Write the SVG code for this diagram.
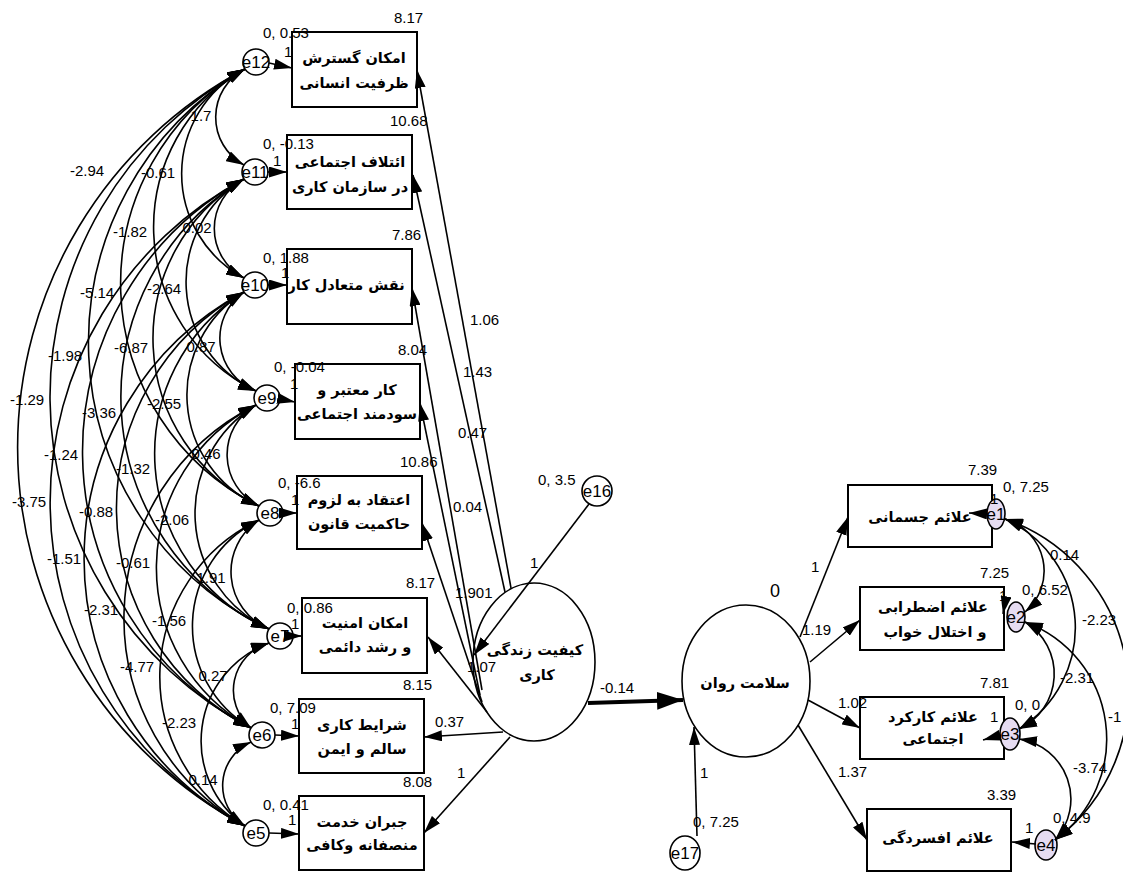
<svg xmlns="http://www.w3.org/2000/svg" width="1123" height="872" viewBox="0 0 1123 872">
<defs>
<marker id="ah" viewBox="0 0 18 11" refX="18" refY="5.5" markerWidth="18" markerHeight="11" markerUnits="userSpaceOnUse" orient="auto-start-reverse"><path d="M0,0 L18,5.5 L0,11 z" fill="#000"/></marker>
<marker id="ahb" viewBox="0 0 26 18" refX="26" refY="9" markerWidth="26" markerHeight="18" markerUnits="userSpaceOnUse" orient="auto"><path d="M0,0 L26,9 L0,18 z" fill="#000"/></marker>
</defs>
<style>
.box{fill:#fff;stroke:#000;stroke-width:2}
.lat{fill:#fff;stroke:#000;stroke-width:1.6}
.err{fill:#fff;stroke:#000;stroke-width:1.6}
.errp{fill:#e6dcf2;stroke:#000;stroke-width:1.6}
.p{fill:none;stroke:#000;stroke-width:1.6;marker-end:url(#ah)}
.c{fill:none;stroke:#000;stroke-width:1.6;marker-start:url(#ah);marker-end:url(#ah)}
.n{font-family:"Liberation Sans",Arial,sans-serif;font-size:15px;fill:#000}
.m{font-family:"Liberation Sans",Arial,sans-serif;font-size:15px;fill:#000;text-anchor:middle}
.fa{font-family:"DejaVu Sans","Noto Sans",sans-serif;font-size:14.5px;font-weight:bold;fill:#000;text-anchor:middle}
.el{font-family:"Liberation Sans",Arial,sans-serif;font-size:17px;fill:#000;text-anchor:middle}
</style>
<rect width="1123" height="872" fill="#fff"/>
<g id="nodes">
<g id="box1"><rect class="box" x="292" y="32" width="125" height="75"/><text class="fa" x="354" y="63">امکان گسترش</text><text class="fa" x="354" y="88">ظرفیت انسانی</text></g>
<g id="box2"><rect class="box" x="287" y="135" width="125" height="74"/><text class="fa" x="350" y="167">ائتلاف اجتماعی</text><text class="fa" x="350" y="192">در سازمان کاری</text></g>
<g id="box3"><rect class="box" x="287" y="249" width="125" height="75"/><text class="fa" x="346" y="290">نقش متعادل کار</text></g>
<g id="box4"><rect class="box" x="295" y="364" width="125" height="75"/><text class="fa" x="357" y="395">کار معتبر و</text><text class="fa" x="357" y="419">سودمند اجتماعی</text></g>
<g id="box5"><rect class="box" x="297" y="476" width="125" height="73"/><text class="fa" x="359" y="505">اعتقاد به لزوم</text><text class="fa" x="359" y="529">حاکمیت قانون</text></g>
<g id="box6"><rect class="box" x="302" y="598" width="125" height="75"/><text class="fa" x="365" y="628">امکان امنیت</text><text class="fa" x="365" y="652">و رشد دائمی</text></g>
<g id="box7"><rect class="box" x="299" y="699" width="125" height="74"/><text class="fa" x="362" y="730">شرایط کاری</text><text class="fa" x="362" y="754">سالم و ایمن</text></g>
<g id="box8"><rect class="box" x="299" y="796" width="125" height="74"/><text class="fa" x="362" y="827">جبران خدمت</text><text class="fa" x="362" y="850">منصفانه وکافی</text></g>
<g id="e12"><circle class="err" cx="256" cy="62" r="13"/><text class="el" x="256" y="68">e12</text></g>
<g id="e11"><circle class="err" cx="255" cy="172" r="13"/><text class="el" x="255" y="178">e11</text></g>
<g id="e10"><circle class="err" cx="255" cy="285" r="13"/><text class="el" x="255" y="291">e10</text></g>
<g id="e9"><circle class="err" cx="267" cy="398" r="13"/><text class="el" x="267" y="404">e9</text></g>
<g id="e8"><circle class="err" cx="270" cy="513" r="13"/><text class="el" x="270" y="519">e8</text></g>
<g id="e7"><circle class="err" cx="280" cy="636" r="13"/><text class="el" x="280" y="642">e7</text></g>
<g id="e6"><circle class="err" cx="262" cy="735" r="13"/><text class="el" x="262" y="741">e6</text></g>
<g id="e5"><circle class="err" cx="256" cy="833" r="13"/><text class="el" x="256" y="839">e5</text></g>
<g id="qwl"><ellipse class="lat" cx="534" cy="662" rx="61" ry="79"/><text class="fa" x="535" y="655">کیفیت زندگی</text><text class="fa" x="537" y="680">کاری</text></g>
<g id="e16"><circle class="err" cx="597" cy="491" r="15"/><text class="el" x="597" y="497">e16</text></g>
<g id="mh"><ellipse class="lat" cx="746" cy="681" rx="64" ry="76"/><text class="fa" x="745" y="688">سلامت روان</text></g>
<g id="e17"><ellipse class="err" cx="685" cy="853" rx="15" ry="17"/><text class="el" x="685" y="859">e17</text></g>
<g id="r1"><rect class="box" x="848" y="485" width="144" height="62"/><text class="fa" x="920" y="522">علائم جسمانی</text></g>
<g id="r2"><rect class="box" x="860" y="587" width="144" height="63"/><text class="fa" x="933" y="612">علائم اضطرابی</text><text class="fa" x="935" y="637">و اختلال خواب</text></g>
<g id="r3"><rect class="box" x="860" y="697" width="144" height="62"/><text class="fa" x="933" y="722">علائم کارکرد</text><text class="fa" x="933" y="744">اجتماعی</text></g>
<g id="r4"><rect class="box" x="867" y="809" width="144" height="62"/><text class="fa" x="938" y="843">علائم افسردگی</text></g>
<g id="e1"><ellipse class="errp" cx="996" cy="514" rx="9" ry="15"/><text class="el" x="996" y="520">e1</text></g>
<g id="e2"><ellipse class="errp" cx="1016" cy="617" rx="9" ry="15"/><text class="el" x="1016" y="623">e2</text></g>
<g id="e3"><ellipse class="errp" cx="1010" cy="734" rx="10" ry="16"/><text class="el" x="1010" y="740">e3</text></g>
<g id="e4"><ellipse class="errp" cx="1046" cy="845" rx="11" ry="15"/><text class="el" x="1046" y="851">e4</text></g>
</g>
<g id="connectors">
<path class="p" d="M269 63 L292 68"/>
<path class="p" d="M267 172 L287 172"/>
<path class="p" d="M268 285 L287 285"/>
<path class="p" d="M280 399 L295 402"/>
<path class="p" d="M283 513 L297 513"/>
<path class="p" d="M290 636 L302 636"/>
<path class="p" d="M275 735 L299 736"/>
<path class="p" d="M269 833 L299 834"/>
<path class="p" d="M511 588 L417 70"/>
<path class="p" d="M505 592 L413 175"/>
<path class="p" d="M482 690 L412 288"/>
<path class="p" d="M480 695 L420 403"/>
<path class="p" d="M482 702 L422 523"/>
<path class="p" d="M487 712 L428 637"/>
<path class="p" d="M503 732 L424 737"/>
<path class="p" d="M510 737 L424 833"/>
<path class="p" d="M589 504 L474 655"/>
<path d="M588 703 L683 700" fill="none" stroke="#000" stroke-width="4" marker-end="url(#ahb)"/>
<path class="p" d="M697 836 L694 727"/>
<path class="p" d="M800 637 L848 517"/>
<path class="p" d="M810 662 L860 620"/>
<path class="p" d="M808 700 L860 728"/>
<path class="p" d="M798 725 L867 840"/>
<path class="p" d="M988 514 L969 513"/>
<path class="p" d="M1006 597 L1003 614"/>
<path class="p" d="M1001 735 L983 740"/>
<path class="p" d="M1036 844 L1012 842"/>
<path class="c" d="M245 69 A54.4 54.4 0 0 0 244 165"/>
<path class="c" d="M245 69 A118.3 118.3 0 0 0 244 278"/>
<path class="c" d="M245 69 A182.4 182.4 0 0 0 256 391"/>
<path class="c" d="M245 69 A247.6 247.6 0 0 0 259 506"/>
<path class="c" d="M245 69 A317.4 317.4 0 0 0 269 629"/>
<path class="c" d="M245 69 A373.2 373.2 0 0 0 251 728"/>
<path class="c" d="M245 69 A428.7 428.7 0 0 0 245 826"/>
<path class="c" d="M244 179 A56.1 56.1 0 0 0 244 278"/>
<path class="c" d="M244 179 A120.2 120.2 0 0 0 256 391"/>
<path class="c" d="M244 179 A185.3 185.3 0 0 0 259 506"/>
<path class="c" d="M244 179 A255.2 255.2 0 0 0 269 629"/>
<path class="c" d="M244 179 A310.9 310.9 0 0 0 251 728"/>
<path class="c" d="M244 179 A366.4 366.4 0 0 0 245 826"/>
<path class="c" d="M244 292 A56.5 56.5 0 0 0 256 391"/>
<path class="c" d="M244 292 A121.5 121.5 0 0 0 259 506"/>
<path class="c" d="M244 292 A191.3 191.3 0 0 0 269 629"/>
<path class="c" d="M244 292 A246.9 246.9 0 0 0 251 728"/>
<path class="c" d="M244 292 A302.4 302.4 0 0 0 245 826"/>
<path class="c" d="M256 405 A57.2 57.2 0 0 0 259 506"/>
<path class="c" d="M256 405 A127.1 127.1 0 0 0 269 629"/>
<path class="c" d="M256 405 A182.9 182.9 0 0 0 251 728"/>
<path class="c" d="M256 405 A238.5 238.5 0 0 0 245 826"/>
<path class="c" d="M259 520 A62 62 0 0 0 269 629"/>
<path class="c" d="M259 520 A117.9 117.9 0 0 0 251 728"/>
<path class="c" d="M259 520 A173.4 173.4 0 0 0 245 826"/>
<path class="c" d="M269 643 A49.2 49.2 0 0 0 251 728"/>
<path class="c" d="M269 643 A104.5 104.5 0 0 0 245 826"/>
<path class="c" d="M251 742 A47.7 47.7 0 0 0 245 826"/>
<path class="c" d="M1005 519 A53.9 53.9 0 0 1 1025 612"/>
<path class="c" d="M1005 519 A119.2 119.2 0 0 1 1019 729"/>
<path class="c" d="M1005 519 A184 184 0 0 1 1055 840"/>
<path class="c" d="M1025 622 A60.7 60.7 0 0 1 1019 729"/>
<path class="c" d="M1025 622 A124.6 124.6 0 0 1 1055 840"/>
<path class="c" d="M1019 739 A60.7 60.7 0 0 1 1055 840"/>
</g>
<g id="labels">
<text class="n" x="394" y="23">8.17</text>
<text class="n" x="263" y="38">0, 0.53</text>
<text class="n" x="284" y="57">1</text>
<text class="n" x="390" y="126">10.68</text>
<text class="n" x="263" y="149">0, -0.13</text>
<text class="n" x="273" y="166">1</text>
<text class="n" x="392" y="240">7.86</text>
<text class="n" x="263" y="263">0, 1.88</text>
<text class="n" x="281" y="278">1</text>
<text class="n" x="398" y="355">8.04</text>
<text class="n" x="274" y="372">0, -0.04</text>
<text class="n" x="290" y="389">1</text>
<text class="n" x="400" y="467">10.86</text>
<text class="n" x="278" y="488">0, -6.6</text>
<text class="n" x="291" y="505">1</text>
<text class="n" x="406" y="588">8.17</text>
<text class="n" x="287" y="613">0, 0.86</text>
<text class="n" x="291" y="629">1</text>
<text class="n" x="403" y="690">8.15</text>
<text class="n" x="270" y="713">0, 7.09</text>
<text class="n" x="291" y="729">1</text>
<text class="n" x="403" y="787">8.08</text>
<text class="n" x="263" y="810">0, 0.41</text>
<text class="n" x="288" y="825">1</text>
<text class="n" x="470" y="325">1.06</text>
<text class="n" x="463" y="377">1.43</text>
<text class="n" x="458" y="438">0.47</text>
<text class="n" x="453" y="512">0.04</text>
<text class="n" x="455" y="598">1.901</text>
<text class="n" x="467" y="672">1.07</text>
<text class="n" x="435" y="727">0.37</text>
<text class="n" x="457" y="778">1</text>
<text class="n" x="538" y="485">0, 3.5</text>
<text class="n" x="530" y="568">1</text>
<text class="n" x="600" y="693">-0.14</text>
<text class="n" x="700" y="778">1</text>
<text class="n" x="693" y="827">0, 7.25</text>
<text class="n" x="770" y="597" style="font-size:18px">0</text>
<text class="n" x="811" y="572">1</text>
<text class="n" x="802" y="635">1.19</text>
<text class="n" x="838" y="708">1.02</text>
<text class="n" x="838" y="777">1.37</text>
<text class="n" x="968" y="475">7.39</text>
<text class="n" x="1003" y="492">0, 7.25</text>
<text class="n" x="990" y="504">1</text>
<text class="n" x="980" y="578">7.25</text>
<text class="n" x="1022" y="595">0, 6.52</text>
<text class="n" x="999" y="601">1</text>
<text class="n" x="980" y="688">7.81</text>
<text class="n" x="1015" y="710">0, 0</text>
<text class="n" x="990" y="722">1</text>
<text class="n" x="987" y="800">3.39</text>
<text class="n" x="1053" y="823">0, 4.9</text>
<text class="n" x="1025" y="833">1</text>
<text class="n" x="1050" y="560">0.14</text>
<text class="n" x="1082" y="625">-2.23</text>
<text class="n" x="1060" y="683">-2.31</text>
<text class="n" x="1108" y="722">-1</text>
<text class="n" x="1073" y="773">-3.74</text>
<text class="m" x="201" y="121">1.7</text>
<text class="m" x="87" y="176">-2.94</text>
<text class="m" x="158" y="178">-0.61</text>
<text class="m" x="130" y="237">-1.82</text>
<text class="m" x="197" y="233">0.02</text>
<text class="m" x="97" y="298">-5.14</text>
<text class="m" x="164" y="294">-2.64</text>
<text class="m" x="65" y="361">-1.98</text>
<text class="m" x="131" y="353">-6.87</text>
<text class="m" x="201" y="352">0.87</text>
<text class="m" x="27" y="405">-1.29</text>
<text class="m" x="99" y="418">-3.36</text>
<text class="m" x="164" y="409">-2.55</text>
<text class="m" x="61" y="460">-1.24</text>
<text class="m" x="133" y="474">-1.32</text>
<text class="m" x="206" y="459">0.46</text>
<text class="m" x="29" y="507">-3.75</text>
<text class="m" x="96" y="517">-0.88</text>
<text class="m" x="172" y="525">-2.06</text>
<text class="m" x="64" y="564">-1.51</text>
<text class="m" x="133" y="568">-0.61</text>
<text class="m" x="211" y="583">1.91</text>
<text class="m" x="101" y="615">-2.31</text>
<text class="m" x="169" y="626">-1.56</text>
<text class="m" x="137" y="672">-4.77</text>
<text class="m" x="213" y="681">0.27</text>
<text class="m" x="179" y="728">-2.23</text>
<text class="m" x="203" y="785">0.14</text>
</g>
</svg>
